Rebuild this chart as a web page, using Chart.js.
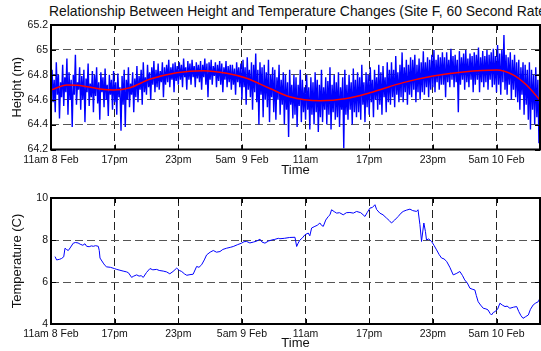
<!DOCTYPE html>
<html>
<head>
<meta charset="utf-8">
<script src="https://cdn.jsdelivr.net/npm/chart.js@4.4.1/dist/chart.umd.min.js"></script>
<style>
  html, body { margin: 0; padding: 0; background: #fff; overflow: hidden; width: 541px; height: 351px; }
  #wrap { position: relative; width: 541px; height: 351px; overflow: hidden; }
  #title { position: absolute; left: 49px; top: 3px; font: 13.9px "Liberation Sans", Arial, sans-serif; color: #111; white-space: nowrap; line-height: 16px; }
  canvas { position: absolute; left: 0; }
  #c1 { top: 0; }
  #c2 { top: 178px; }
</style>
</head>
<body>
<div id="wrap">
  <div id="title">Relationship Between Height and Temperature Changes (Site F, 60 Second Rate)</div>
  <canvas id="c1" width="541" height="178"></canvas>
  <canvas id="c2" width="541" height="173"></canvas>
</div>
<script>
// ---- Data (hours since 11am 8 Feb) ----
const timeTickHours = [0, 6, 12, 18, 24, 30, 36, 42];
const heightTimeLabels = ["11am 8 Feb", "17pm", "23pm", "5am  9 Feb", "11am", "17pm", "23pm", "5am 10 Feb"];
const tempTimeLabels = ["11am 8 Feb", "17pm", "23pm", "5am 9 Feb", "11am", "17pm", "23pm", "5am 10 Feb"];
const heightTicks = [64.2, 64.4, 64.6, 64.8, 65, 65.2];
const tempTicks = [4, 6, 8, 10];
const timeMaxHours = 46.1;

// raw height samples, one every 0.1 h, one row per hour
const heightSampleStep = 0.1;
const heightRaw = [
  64.70, 64.84, 64.58, 64.76, 64.50, 64.90, 64.64, 64.80, 64.45, 64.74,
  64.62, 64.88, 64.55, 64.78, 64.66, 64.93, 64.48, 64.82, 64.60, 64.76,
  64.38, 64.80, 64.64, 64.96, 64.56, 64.74, 64.68, 64.86, 64.52, 64.79,
  64.60, 64.84, 64.42, 64.77, 64.66, 64.89, 64.55, 64.73, 64.62, 64.83,
  64.50, 64.80, 64.63, 64.86, 64.57, 64.74, 64.44, 64.82, 64.66, 64.78,
  64.54, 64.85, 64.60, 64.72, 64.47, 64.80, 64.64, 64.76, 64.52, 64.83,
  64.58, 64.74, 64.48, 64.81, 64.62, 64.70, 64.35, 64.79, 64.56, 64.84,
  64.38, 64.76, 64.60, 64.86, 64.54, 64.73, 64.64, 64.82, 64.50, 64.77,
  64.62, 64.87, 64.58, 64.79, 64.68, 64.84, 64.56, 64.90, 64.66, 64.78,
  64.64, 64.88, 64.70, 64.82, 64.60, 64.86, 64.72, 64.91, 64.66, 64.84,
  64.70, 64.89, 64.68, 64.83, 64.74, 64.90, 64.62, 64.86, 64.72, 64.88,
  64.74, 64.92, 64.70, 64.86, 64.76, 64.89, 64.66, 64.90, 64.75, 64.87,
  64.72, 64.90, 64.76, 64.88, 64.70, 64.93, 64.78, 64.86, 64.68, 64.91,
  64.76, 64.89, 64.72, 64.92, 64.78, 64.87, 64.70, 64.90, 64.77, 64.88,
  64.74, 64.91, 64.68, 64.88, 64.78, 64.93, 64.72, 64.89, 64.62, 64.90,
  64.76, 64.92, 64.72, 64.87, 64.79, 64.90, 64.70, 64.88, 64.75, 64.91,
  64.72, 64.89, 64.66, 64.86, 64.76, 64.91, 64.70, 64.87, 64.74, 64.88,
  64.68, 64.88, 64.72, 64.85, 64.64, 64.90, 64.74, 64.86, 64.70, 64.89,
  64.60, 64.92, 64.70, 64.86, 64.56, 64.94, 64.68, 64.84, 64.62, 64.90,
  64.52, 64.88, 64.66, 64.97, 64.58, 64.84, 64.40, 64.90, 64.64, 64.86,
  64.46, 64.88, 64.60, 64.82, 64.54, 64.92, 64.42, 64.80, 64.62, 64.86,
  64.50, 64.84, 64.44, 64.78, 64.60, 64.88, 64.48, 64.76, 64.56, 64.82,
  64.40, 64.80, 64.52, 64.74, 64.30, 64.84, 64.56, 64.72, 64.45, 64.80,
  64.48, 64.78, 64.38, 64.72, 64.55, 64.84, 64.42, 64.76, 64.50, 64.70,
  64.44, 64.80, 64.52, 64.70, 64.36, 64.78, 64.48, 64.74, 64.40, 64.82,
  64.50, 64.76, 64.34, 64.72, 64.46, 64.84, 64.42, 64.70, 64.52, 64.78,
  64.40, 64.75, 64.48, 64.86, 64.36, 64.72, 64.50, 64.80, 64.44, 64.74,
  64.46, 64.82, 64.38, 64.70, 64.52, 64.78, 64.21, 64.84, 64.48, 64.72,
  64.44, 64.80, 64.52, 64.74, 64.40, 64.85, 64.50, 64.76, 64.46, 64.82,
  64.50, 64.78, 64.44, 64.88, 64.56, 64.74, 64.42, 64.82, 64.54, 64.80,
  64.48, 64.86, 64.58, 64.76, 64.46, 64.84, 64.60, 64.78, 64.52, 64.88,
  64.56, 64.82, 64.48, 64.87, 64.62, 64.78, 64.50, 64.90, 64.58, 64.84,
  64.56, 64.90, 64.62, 64.84, 64.54, 64.95, 64.64, 64.82, 64.58, 64.88,
  64.62, 64.98, 64.58, 64.86, 64.66, 64.92, 64.56, 64.88, 64.64, 64.94,
  64.62, 64.92, 64.68, 64.96, 64.58, 64.88, 64.66, 64.93, 64.60, 64.90,
  64.66, 64.99, 64.64, 64.90, 64.70, 64.94, 64.62, 64.92, 64.68, 64.96,
  64.70, 65.00, 64.66, 64.92, 64.74, 64.96, 64.68, 64.94, 64.72, 64.98,
  64.72, 64.94, 64.62, 64.98, 64.74, 64.92, 64.70, 65.01, 64.76, 64.95,
  64.70, 64.96, 64.74, 64.92, 64.50, 64.99, 64.72, 64.94, 64.76, 64.97,
  64.68, 65.00, 64.74, 64.93, 64.70, 64.97, 64.76, 64.95, 64.66, 64.98,
  64.72, 64.96, 64.76, 65.02, 64.66, 64.94, 64.74, 64.99, 64.70, 64.95,
  64.74, 65.00, 64.68, 64.96, 64.76, 64.98, 64.70, 65.01, 64.72, 64.95,
  64.66, 65.04, 64.72, 64.97, 64.64, 65.00, 64.74, 65.12, 64.68, 64.96,
  64.64, 64.94, 64.72, 64.98, 64.60, 64.92, 64.68, 64.96, 64.62, 64.90,
  64.58, 64.92, 64.52, 64.86, 64.64, 64.90, 64.48, 64.88, 64.56, 64.84,
  64.44, 64.90, 64.36, 64.84, 64.52, 64.80, 64.40, 64.86, 64.46, 64.76,
  64.25
];

// smooth (red) height trend
const trendHours = [0, 1.5, 2.7, 4.6, 5.9, 7.45, 9.3, 11.85, 14.36, 16.56, 18.44, 20.64, 22.5, 25.35, 27.87, 30.07, 33.2, 36.03, 38.86, 42.0, 43.57, 44.83, 46.1];
const trendValues = [64.678, 64.718, 64.715, 64.686, 64.678, 64.696, 64.764, 64.817, 64.833, 64.812, 64.772, 64.69, 64.624, 64.592, 64.61, 64.656, 64.737, 64.79, 64.823, 64.839, 64.8, 64.718, 64.597];

// temperature
const tempHours = [0.38,0.53,0.8,1.0,1.2,1.32,1.45,1.63,1.8,2.1,2.3,2.55,2.75,3.0,3.2,3.36,3.6,3.8,3.99,4.2,4.46,4.55,4.62,4.8,4.93,5.1,5.25,5.6,5.97,6.2,6.5,6.8,7.13,7.3,7.6,7.8,8.08,8.3,8.5,8.7,9.0,9.33,9.6,9.96,10.2,10.58,10.9,11.2,11.5,11.85,12.1,12.32,12.6,12.8,13.1,13.4,13.73,13.95,14.2,14.45,14.67,15.0,15.3,15.6,15.93,16.2,16.56,16.9,17.18,17.6,17.97,18.2,18.44,18.75,19.07,19.4,19.7,19.9,20.17,20.5,20.8,21.1,21.43,21.58,22.0,22.5,23.0,23.16,23.3,23.47,23.7,23.94,24.25,24.4,24.57,24.88,25.1,25.35,25.5,25.67,25.9,26.14,26.3,26.45,26.7,26.93,27.2,27.55,27.85,28.18,28.5,28.81,29.2,29.6,29.8,30.07,30.3,30.54,30.7,31.0,31.3,31.64,31.9,32.1,32.4,32.73,33.0,33.2,33.5,33.84,34.1,34.46,34.6,34.78,34.93,35.15,35.3,35.4,35.6,35.88,36.1,36.35,36.6,36.82,37.05,37.3,37.6,37.92,38.2,38.55,38.8,39.0,39.25,39.5,39.7,39.96,40.1,40.27,40.5,40.75,41.0,41.2,41.4,41.53,41.7,41.85,42.1,42.32,42.55,42.8,43.0,43.26,43.6,43.9,44.1,44.3,44.5,44.75,45.0,45.2,45.46,45.7,45.93,46.1];
const tempValues = [7.21,7.05,7.08,7.12,7.2,7.61,7.55,7.5,7.62,7.85,7.88,7.86,7.8,7.75,7.82,7.7,7.68,7.72,7.7,7.73,7.7,7.5,7.14,7.0,6.9,6.78,6.72,6.7,6.64,6.6,6.56,6.52,6.48,6.44,6.22,6.28,6.34,6.28,6.3,6.22,6.45,6.64,6.58,6.6,6.55,6.52,6.48,6.39,6.5,6.66,6.55,6.5,6.38,6.32,6.35,6.37,6.74,6.7,6.82,7.05,7.29,7.42,7.5,7.42,7.45,7.55,7.61,7.65,7.69,7.78,7.85,7.92,7.93,7.86,7.9,7.95,8.04,7.9,7.85,7.95,8.0,8.03,8.08,8.06,8.08,8.12,8.13,7.69,7.85,8.0,8.1,8.25,8.33,8.2,8.57,8.65,8.7,8.81,8.7,8.65,8.95,9.12,9.2,9.44,9.35,9.28,9.3,9.2,9.3,9.31,9.28,9.36,9.3,9.12,9.3,9.52,9.55,9.68,9.45,9.28,9.2,9.04,8.92,8.81,8.95,9.12,9.28,9.36,9.42,9.47,9.4,9.36,9.44,8.73,7.93,8.81,8.4,8.0,8.05,7.93,7.75,7.53,7.3,7.14,7.1,6.98,6.7,6.34,6.4,6.5,6.3,6.1,5.95,5.7,5.66,5.62,5.35,5.06,4.9,4.75,4.72,4.67,4.5,4.43,4.55,4.59,4.7,4.99,4.9,4.83,4.85,4.75,4.8,4.83,4.59,4.4,4.27,4.35,4.43,4.7,4.91,5.0,5.06,5.23];

// ---- Chart helpers ----
const FONT = '"Liberation Sans", Arial, sans-serif';
Chart.defaults.font.family = FONT;
Chart.defaults.color = '#111';

const framePlugin = {
  id: 'frame',
  afterDraw(chart) {
    const { ctx, chartArea: a, scales: { x, y } } = chart;
    ctx.save();
    ctx.strokeStyle = '#000';
    ctx.lineWidth = 1;
    ctx.beginPath();
    x.ticks.forEach(t => {
      const px = Math.round(x.getPixelForValue(t.value)) + 0.5;
      ctx.moveTo(px, a.bottom); ctx.lineTo(px, a.bottom - 5);
      ctx.moveTo(px, a.top); ctx.lineTo(px, a.top + 5);
    });
    y.ticks.forEach(t => {
      const py = Math.round(y.getPixelForValue(t.value)) + 0.5;
      ctx.moveTo(a.left, py); ctx.lineTo(a.left + 5, py);
      ctx.moveTo(a.right, py); ctx.lineTo(a.right - 5, py);
    });
    ctx.stroke();
    ctx.lineWidth = 2;
    ctx.strokeRect(a.left, a.top, a.right - a.left, a.bottom - a.top);
    ctx.restore();
  }
};

function makeOptions(cfg) {
  return {
    responsive: false,
    animation: false,
    events: [],
    layout: { padding: { top: cfg.padTop, right: 1, left: 0, bottom: 0 } },
    plugins: { legend: { display: false }, tooltip: { enabled: false }, title: { display: false } },
    scales: {
      x: {
        type: 'linear',
        min: 0,
        max: timeMaxHours,
        afterFit(s) { s.height = cfg.xHeight; },
        afterBuildTicks(s) { s.ticks = timeTickHours.map(v => ({ value: v })); },
        ticks: {
          autoSkip: false, maxRotation: 0, minRotation: 0, padding: 4,
          font: { size: 10.5 }, color: '#111',
          callback(v) { const i = timeTickHours.indexOf(v); return i >= 0 ? cfg.xLabels[i] : ''; }
        },
        grid: { drawTicks: false, color: '#222', lineWidth: 1 },
        border: { display: false, dash: [8, 4] },
        title: { display: true, text: 'Time', font: { size: 13, lineHeight: 1.2 }, color: '#111', padding: { top: 0, bottom: 0 } }
      },
      y: {
        min: cfg.yMin,
        max: cfg.yMax,
        afterFit(s) { s.width = 51; },
        afterBuildTicks(s) { s.ticks = cfg.yTicks.map(v => ({ value: v })); },
        ticks: { padding: 3, font: { size: 10.5 }, color: '#111', callback(v) { return String(v); } },
        grid: { drawTicks: false, color: '#555', lineWidth: 1 },
        border: { display: false, dash: [8, 4] },
        title: { display: true, text: cfg.yTitle, font: { size: 13, lineHeight: 1.2 }, color: '#111', padding: { top: 10, bottom: 0 } }
      }
    }
  };
}

new Chart(document.getElementById('c1'), {
  type: 'line',
  data: {
    datasets: [
      {
        label: 'Height trend',
        data: trendHours.map((h, i) => ({ x: h, y: trendValues[i] })),
        borderColor: '#ff0000', borderWidth: 1.5, pointRadius: 0, cubicInterpolationMode: 'monotone', order: 0
      },
      {
        label: 'Height',
        data: heightRaw.map((v, i) => ({ x: i * heightSampleStep, y: v })),
        borderColor: '#0000ff', borderWidth: 1.4, pointRadius: 0, tension: 0, order: 1
      }
    ]
  },
  options: makeOptions({ padTop: 25, xHeight: 28.5, xLabels: heightTimeLabels, yMin: 64.2, yMax: 65.2, yTicks: heightTicks, yTitle: 'Height (m)' }),
  plugins: [framePlugin]
});

new Chart(document.getElementById('c2'), {
  type: 'line',
  data: {
    datasets: [
      {
        label: 'Temperature',
        data: tempHours.map((h, i) => ({ x: h, y: tempValues[i] })),
        borderColor: '#0000ff', borderWidth: 1, pointRadius: 0, tension: 0
      }
    ]
  },
  options: makeOptions({ padTop: 20, xHeight: 27, xLabels: tempTimeLabels, yMin: 4, yMax: 10, yTicks: tempTicks, yTitle: 'Temperature (C)' }),
  plugins: [framePlugin]
});
</script>
</body>
</html>
